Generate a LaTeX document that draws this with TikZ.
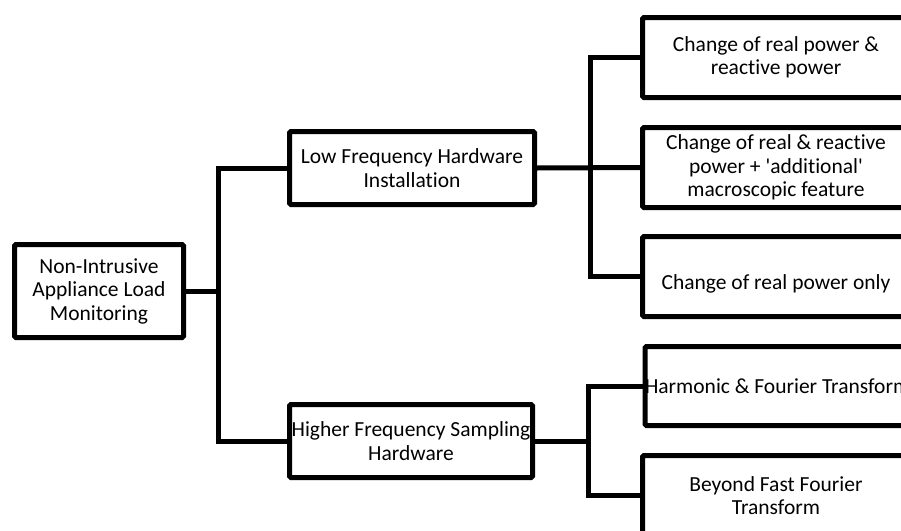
\documentclass[tikz,border=0pt]{standalone}
\usepackage{fontspec}
\setmainfont{Carlito}[Ligatures={TeX,NoCommon}]
\tikzset{
	box/.style={draw, line width=5pt, rounded corners=1.5pt, align=center, inner sep=2pt, font=\fontsize{21.5}{23.5}\selectfont},
	link/.style={line width=5pt},
}
\begin{document}
\begin{tikzpicture}[x=1pt,y=-1pt]
	\useasboundingbox (0,0) rectangle (901,530);
	\clip (0,0) rectangle (901,530);
	\pgfmathsetmacro{\h}{80}
	\pgfmathsetmacro{\w}{267}
	\node[box, minimum width=169, minimum height=93] (root) at (99,291) {Non-Intrusive\\Appliance Load\\Monitoring};
	\begin{scope}
		\node[box, minimum width=245, minimum height=73] (lowfreq) at (412,168) {Low Frequency Hardware\\Installation};
		\node[box, minimum width=\w, minimum height=\h] (realreact) at (776,57.5) {Change of real power \&\\reactive power};
		\node[box, minimum width=\w, minimum height=\h] (addfeat) at (776,167.5) {Change of real \& reactive\\power + \textquotesingle additional\textquotesingle\\macroscopic feature};
		\node[box, minimum width=\w, minimum height=\h, text height=31pt, text depth=5pt] (realonly) at (776,276.5) {Change of real power only};
		\draw[link] (lowfreq.east) -- (addfeat.west);
		\coordinate (lowfork) at (590,168);
		\draw[link] (realreact.west) -| (lowfork) |- (realonly.west);
	\end{scope}
	\begin{scope}
		\node[box, minimum width=243, minimum height=73] (highfreq) at (411,441) {Higher Frequency Sampling\\Hardware};
		\node[box, inner xsep=0pt, minimum height=79, anchor=west] (harmonic) at (642.5,386) {Harmonic \& Fourier Transform};
		\node[box, minimum width=\w, minimum height=\h] (beyondfft) at (776,495.5) {Beyond Fast Fourier\\Transform};
		\coordinate (highfork) at (588,441);
		\draw[link] (highfreq.east) -- (highfork);
		\draw[link] (harmonic.west) -| (highfork) |- (beyondfft.west);
	\end{scope}
	\coordinate (rootfork) at (218,291);
	\draw[link] (root.east) -- (rootfork);
	\draw[link] (lowfreq.west) -| (rootfork) |- (highfreq.west);
\end{tikzpicture}
\end{document}
